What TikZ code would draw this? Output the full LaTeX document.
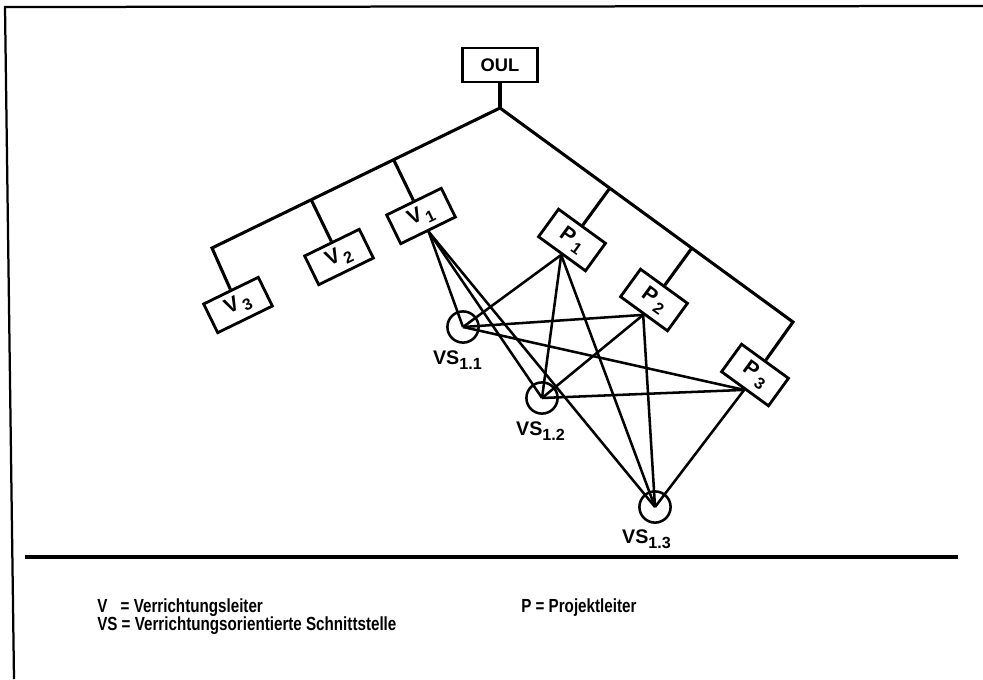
\documentclass[tikz,border=0pt]{standalone}
\usepackage{fontspec}
\usepackage{graphicx}
\setsansfont{Liberation Sans}
\newfontfamily\legendfont[FakeStretch=0.8]{Liberation Sans}
\usetikzlibrary{positioning,calc}
\newcommand{\lowidx}[1]{\raisebox{-0.45ex}{\fontsize{11.5}{11.5}\selectfont #1}}

\begin{document}
\begin{tikzpicture}[
  unit/.style={draw, line width=2pt, inner sep=0pt, font=\sffamily\bfseries\fontsize{15}{15}\selectfont},
  vbox/.style={unit, rotate=26, minimum width=1.52cm, minimum height=0.8cm},
  pbox/.style={unit, rotate=-36, minimum width=1.45cm, minimum height=0.85cm},
  vs/.style={draw, circle, line width=1.8pt, minimum size=0.78cm, inner sep=0pt},
  vslbl/.style={font=\sffamily\bfseries\fontsize{14}{14}\selectfont, inner sep=1pt},
  tree/.style={line width=2.2pt},
  link/.style={line width=1.8pt},
  legend/.style={font=\legendfont\bfseries\fontsize{13.5}{15}\selectfont, anchor=base west, inner sep=0pt},
]
\useasboundingbox (0,0) rectangle (24.575,-16.975);

%% Frame and rule
\draw[line width=1.6pt] (24.575,-0.15) -- (0.125,-0.175) -- (0.35,-16.975);
\draw[line width=2.2pt] (0.625,-13.925) -- (23.95,-13.925);

%% Top: OUL and branch points
\node[unit, minimum width=1.88cm, minimum height=0.85cm,
      font=\sffamily\bfseries\fontsize{13}{13}\selectfont] (oul) at (12.5,-1.625) {OUL};
\coordinate (top)  at (12.5,-2.7);
\coordinate (lend) at (5.3,-6.2);
\coordinate (rend) at (19.825,-8.05);

%% Verrichtungsleiter
\node[vbox] (v1) at (10.525,-5.4)  {V\kern2pt\lowidx{1}};
\node[vbox] (v2) at (8.475,-6.425) {V\kern2pt\lowidx{2}};
\node[vbox] (v3) at (5.95,-7.625)  {V\kern2pt\lowidx{3}};

%% Projektleiter
\node[pbox] (p1) at (14.3,-6.0)     {P\kern2.5pt\lowidx{1}};
\node[pbox] (p2) at (16.35,-7.5)    {P\kern2.5pt\lowidx{2}};
\node[pbox] (p3) at (18.875,-9.375) {P\kern2.5pt\lowidx{3}};

%% Tree
\draw[tree] (oul) -- (top);
\draw[tree] (v3.north) -- (lend) -- (top) -- (rend) -- (p3.north);
\draw[tree] (v2.north) -- ($(top)!(v2.north)!(lend)$);
\draw[tree] (v1.north) -- ($(top)!(v1.north)!(lend)$);
\draw[tree] (p1.north) -- ($(top)!(p1.north)!(rend)$);
\draw[tree] (p2.north) -- ($(top)!(p2.north)!(rend)$);

%% Schnittstellen
\node[vs] (vs11) at (11.575,-8.175) {};
\node[vs] (vs12) at (13.55,-9.95)   {};
\node[vs] (vs13) at (16.375,-12.675) {};
\node[vslbl, below=4pt of vs11, xshift=-4pt] (vs11lbl) {VS\lowidx{1.1}};
\node[vslbl, below=4pt of vs12, xshift=-1pt] (vs12lbl) {VS\lowidx{1.2}};
\node[vslbl, below=3pt of vs13, xshift=-6pt] (vs13lbl) {VS\lowidx{1.3}};

%% Links
\foreach \u in {v1,p1,p2,p3}
  \foreach \s in {vs11,vs12,vs13}
    \draw[link] (\u.south) -- (\s.center);

%% Legend
\node[legend] (legv)  at (2.425,-15.3)  {V\hspace{0.7em}= Verrichtungsleiter};
\node[legend] (legvs) at (2.425,-15.75) {VS = Verrichtungsorientierte Schnittstelle};
\node[legend] (legp)  at (13.025,-15.3) {P = Projektleiter};
\end{tikzpicture}
\end{document}
